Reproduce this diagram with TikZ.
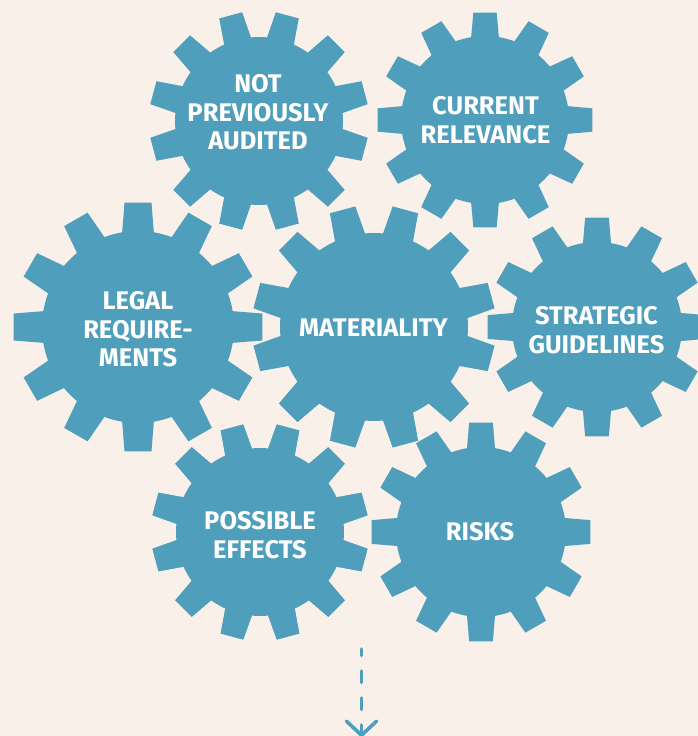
\documentclass[tikz,border=0pt]{standalone}
\usepackage{fontspec}
\setmainfont{Fira Sans}
\usepackage{tikz}
\usetikzlibrary{arrows.meta}
\definecolor{gearblue}{RGB}{79,158,187}
\definecolor{paper}{RGB}{250,240,234}

% one cog with 12 teeth: centre, outer radius, inner radius, turn
\newcommand{\cog}[4]{%
  \fill[gearblue, shift={#1}] ({#4-9.5}:#3)
    \foreach \k [evaluate=\k as \a using #4+30*\k] in {0,...,11}{
      -- ({\a-9.5}:#3) -- ({\a-6.2}:#2) -- ({\a+6.2}:#2) -- ({\a+9.5}:#3)
      arc[start angle=\a+9.5, end angle=\a+20.5, radius=#3]
    } -- cycle;
}

\begin{document}
\begin{tikzpicture}[x=1pt, y=-1pt]
                \tikzstyle{cogtext}=[text=white, inner sep=0pt, align=center,
                  font=\bfseries\fontsize{25.5}{28.5}\selectfont]
                \tikzstyle{flowarrow}=[gearblue, line width=3.6pt, line cap=round,
                  dash pattern=on 11.5pt off 15.5pt, dash phase=5pt,
                  -{Straight Barb[length=14pt, width=30pt, line width=3.6pt, round]}]
                \fill [paper] (0,0) rectangle (698,736);
                \useasboundingbox (0,0) rectangle (698,736);
                \cog{(259,121)}{110}{84}{15}
                \cog{(485,120)}{108}{84}{0}
                \cog{(138,327)}{125}{96}{0}
                \cog{(374,327)}{122}{94}{15}
                \cog{(597,327)}{110}{85}{0}
                \cog{(260,532)}{109}{84}{15}
                \cog{(481,532)}{110}{85}{0}
                \node [cogtext] (audited) at (258,112.5) {NOT\\PREVIOUSLY\\AUDITED};
                \node [cogtext] (relevance) at (485.5,120) {CURRENT\\RELEVANCE};
                \node [cogtext] (legal) at (138,329.5) {LEGAL\\REQUIRE-\\MENTS};
                \node [cogtext] (materiality) at (373.5,328) {MATERIALITY};
                \node [cogtext] (strategic) at (596.5,330) {STRATEGIC\\GUIDELINES};
                \node [cogtext] (effects) at (260,535) {POSSIBLE\\EFFECTS};
                \node [cogtext] (risks) at (480,531.5) {RISKS};
                \coordinate (flowtop) at (361.5,649);
                \coordinate (flowend) at (361.5,737);
                \draw [flowarrow] (flowtop) -- (flowend);
            \end{tikzpicture}
\end{document}
